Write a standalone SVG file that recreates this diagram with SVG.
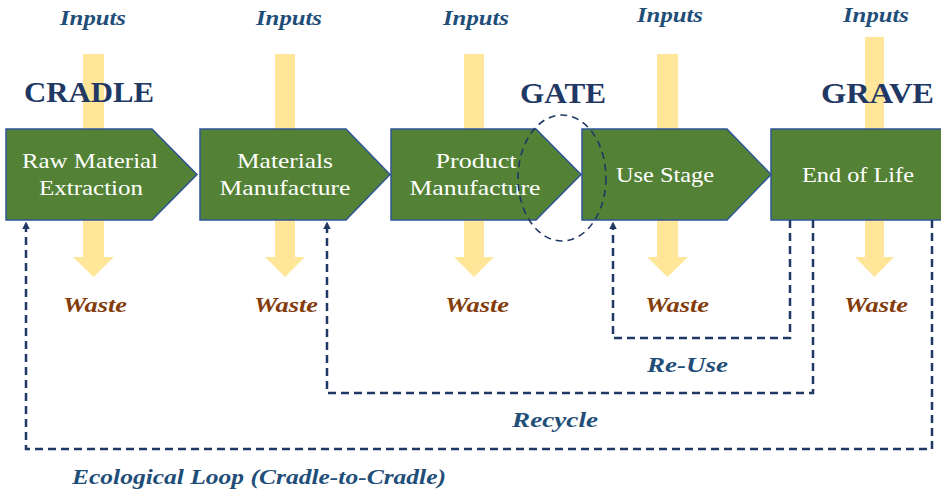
<svg xmlns="http://www.w3.org/2000/svg" width="941" height="494" viewBox="0 0 941 494">
  <style>
    text { font-family: "Liberation Serif", "Times New Roman", serif; }
    .flow { fill: #FFE699; }
    .stage { fill: #538135; stroke: #2F5597; stroke-width: 1.5; }
    .stage-label { font-size: 22px; fill: #FFFFFF; text-anchor: middle; }
    .io { font-size: 22px; font-weight: bold; font-style: italic; text-anchor: middle; }
    .inputs { fill: #1F4E79; }
    .waste { fill: #843C0C; }
    .phase { font-size: 30px; font-weight: bold; fill: #1F3864; }
    .loop { fill: none; stroke: #1F3864; stroke-width: 2.5; stroke-dasharray: 8 5; }
    .loop-label { font-size: 22px; font-weight: bold; font-style: italic; fill: #1F4E79; }
  </style>
  <defs>
    <marker id="arrowUp" viewBox="0 0 10 10" refX="0" refY="5" markerWidth="3" markerHeight="3" orient="auto" markerUnits="strokeWidth">
      <path d="M0,0 L10,5 L0,10 z" fill="#1F3864"/>
    </marker>
  </defs>

  <!-- input / waste flows running through each stage -->
  <g id="flows">
    <path class="flow" d="M83,54 H104 V257 H114 L93.5,277 L73,257 H83 Z"/>
    <path class="flow" d="M275,54 H295 V257 H305 L285,277 L265,257 H275 Z"/>
    <path class="flow" d="M464,54 H484 V257 H494 L474,277 L454,257 H464 Z"/>
    <path class="flow" d="M657,54 H678 V257 H688 L667.5,277 L647,257 H657 Z"/>
    <path class="flow" d="M865,37 H884 V257 H894 L874.5,277 L855,257 H865 Z"/>
  </g>

  <!-- Inputs labels -->
  <g id="inputs-labels">
    <text class="io inputs" x="93" y="25" textLength="66" lengthAdjust="spacingAndGlyphs">Inputs</text>
    <text class="io inputs" x="289" y="25" textLength="66" lengthAdjust="spacingAndGlyphs">Inputs</text>
    <text class="io inputs" x="476" y="25" textLength="66" lengthAdjust="spacingAndGlyphs">Inputs</text>
    <text class="io inputs" x="670" y="22" textLength="66" lengthAdjust="spacingAndGlyphs">Inputs</text>
    <text class="io inputs" x="876" y="22" textLength="66" lengthAdjust="spacingAndGlyphs">Inputs</text>
  </g>

  <!-- phase headings -->
  <g id="phases">
    <text class="phase" x="24" y="102" textLength="130" lengthAdjust="spacingAndGlyphs">CRADLE</text>
    <text class="phase" x="520" y="103" textLength="86" lengthAdjust="spacingAndGlyphs">GATE</text>
    <text class="phase" x="821" y="103" textLength="113" lengthAdjust="spacingAndGlyphs">GRAVE</text>
  </g>

  <g id="raw-material-extraction">
    <polygon class="stage" points="6,129 152,129 197,174.5 152,220 6,220"/>
    <text class="stage-label" x="90" y="168" textLength="136" lengthAdjust="spacingAndGlyphs">Raw Material</text>
    <text class="stage-label" x="91" y="195" textLength="104" lengthAdjust="spacingAndGlyphs">Extraction</text>
  </g>
  <g id="materials-manufacture">
    <polygon class="stage" points="200,129 346,129 390,174.5 346,220 200,220"/>
    <text class="stage-label" x="285" y="168" textLength="96" lengthAdjust="spacingAndGlyphs">Materials</text>
    <text class="stage-label" x="285" y="195" textLength="131" lengthAdjust="spacingAndGlyphs">Manufacture</text>
  </g>
  <g id="product-manufacture">
    <polygon class="stage" points="391,129 536,129 581,174.5 536,220 391,220"/>
    <text class="stage-label" x="476" y="168" textLength="81" lengthAdjust="spacingAndGlyphs">Product</text>
    <text class="stage-label" x="475" y="195" textLength="131" lengthAdjust="spacingAndGlyphs">Manufacture</text>
  </g>
  <g id="use-stage">
    <polygon class="stage" points="582,129 727,129 771,174.5 727,220 582,220"/>
    <text class="stage-label" x="665" y="182" textLength="98" lengthAdjust="spacingAndGlyphs">Use Stage</text>
  </g>
  <g id="end-of-life">
    <rect class="stage" x="771" y="129" width="176" height="91"/>
    <text class="stage-label" x="858" y="182" textLength="112" lengthAdjust="spacingAndGlyphs">End of Life</text>
  </g>

  <!-- gate marker -->
  <g id="gate">
    <ellipse cx="562" cy="178" rx="44" ry="63" fill="none" stroke="#1F3864" stroke-width="1.6" stroke-dasharray="7 5"/>
  </g>

  <!-- Waste labels -->
  <g id="waste-labels">
    <text class="io waste" x="95" y="312" textLength="64" lengthAdjust="spacingAndGlyphs">Waste</text>
    <text class="io waste" x="286" y="312" textLength="64" lengthAdjust="spacingAndGlyphs">Waste</text>
    <text class="io waste" x="477" y="312" textLength="64" lengthAdjust="spacingAndGlyphs">Waste</text>
    <text class="io waste" x="677" y="312" textLength="64" lengthAdjust="spacingAndGlyphs">Waste</text>
    <text class="io waste" x="876" y="312" textLength="64" lengthAdjust="spacingAndGlyphs">Waste</text>
  </g>

  <!-- return loops -->
  <g id="connectors">
    <path class="loop" d="M790,220 V338 H613 V229" marker-end="url(#arrowUp)"/>
    <path class="loop" d="M813,220 V393 H327 V229" marker-end="url(#arrowUp)"/>
    <path class="loop" d="M932,220 V449 H26 V229" marker-end="url(#arrowUp)"/>
  </g>

  <g id="loop-labels">
    <text class="loop-label" x="647" y="372" textLength="81" lengthAdjust="spacingAndGlyphs">Re-Use</text>
    <text class="loop-label" x="512" y="427" textLength="86" lengthAdjust="spacingAndGlyphs">Recycle</text>
    <text class="loop-label" x="72" y="484" textLength="374" lengthAdjust="spacingAndGlyphs">Ecological Loop (Cradle-to-Cradle)</text>
  </g>
</svg>
